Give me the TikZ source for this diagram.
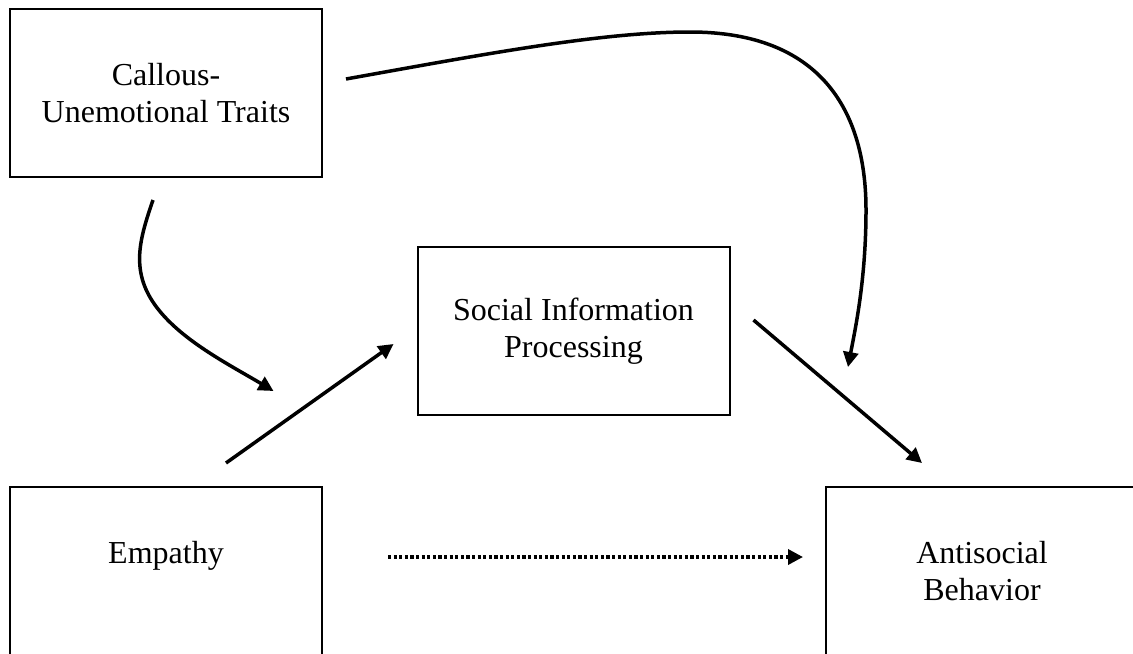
\documentclass[tikz,border=0pt]{standalone}
\usepackage{fontspec}
\setmainfont{Liberation Serif}
\usetikzlibrary{arrows.meta, calc}

\begin{document}
\begin{tikzpicture}[x=0.5pt, y=-0.5pt, >={Triangle[length=7.5pt, width=7.5pt]},
  font=\fontsize{16}{18.2}\selectfont,
  block/.style={draw, line width=1pt, minimum width=156pt, minimum height=84pt, inner sep=0pt, outer sep=0pt, align=center},
  link/.style={->, line width=1.75pt},
  dotlink/.style={link, dash pattern=on 1.6pt off 1.2pt}]

\useasboundingbox (0,0) rectangle (1133,653);

% ---------- blocks ----------
\node[block] (cu)  at (166,93)    {Callous-\\Unemotional Traits};
\node[block] (sip) at (573.5,331) {Social Information\\Processing};
\node[block] (emp) at (166,571)   {Empathy\\\mbox{}};
\node[block] (asb) at (982,571)   {Antisocial\\Behavior};

% ---------- arrow ends ----------
\coordinate (cuR)   at ($(cu.east)+(24,-14)$);
\coordinate (cuB)   at ($(cu.south)+(-13,23)$);
\coordinate (mod)   at ($(sip.west)+(-144,60)$);
\coordinate (empT)  at ($(emp.north)+(60,-24)$);
\coordinate (sipL)  at ($(sip.west)+(-24,13)$);
\coordinate (sipR)  at ($(sip.east)+(24,-11)$);
\coordinate (asbT)  at ($(asb.north west)+(22,-120)$);
\coordinate (asbTL) at ($(asb.north)+(-60,-24)$);
\coordinate (empR)  at ($(emp.east)+(66,-14)$);
\coordinate (asbL)  at ($(asb.west)+(-23,-14)$);

% CU -> antisocial, long curve over the top
\draw[link] (cuR) .. controls (480,55) and (600,32) .. (690,32)
  .. controls (820,32) and (866,110) .. (866,210)
  .. controls (866,280) and (855,330) .. (asbT);

% CU -> moderation of empathy path
\draw[link] (cuB) .. controls (140,238) and (130,270) .. (155,305)
  .. controls (180,340) and (230,365) .. (mod);

% mediated path
\draw[link] (empT) -- (sipL);
\draw[link] (sipR) -- (asbTL);

% direct path
\draw[dotlink] (empR) -- (asbL);

\end{tikzpicture}
\end{document}
